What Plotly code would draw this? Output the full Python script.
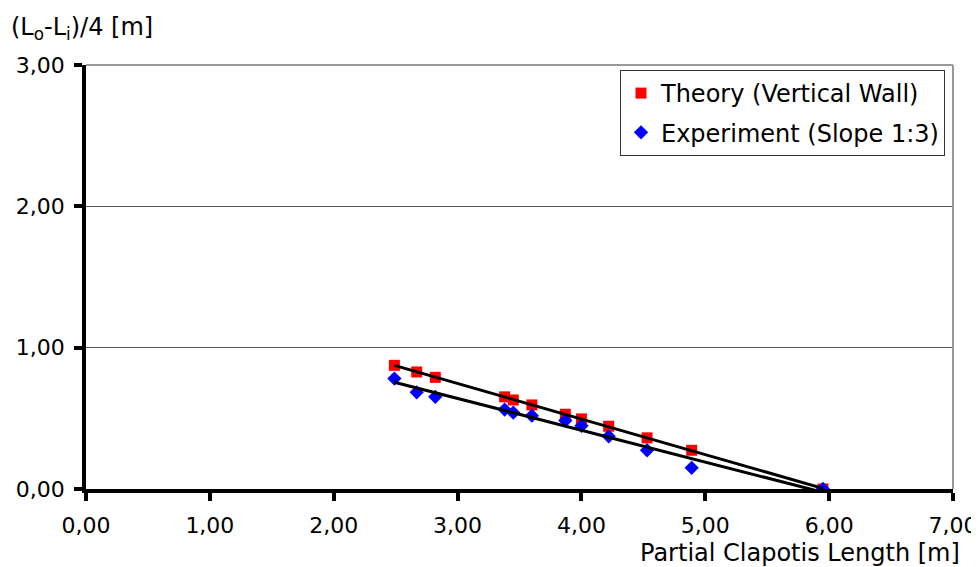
import numpy as np
import plotly.graph_objects as go

# Data
theory_x = [2.49, 2.67, 2.82, 3.38, 3.45, 3.60, 3.87, 4.00, 4.22, 4.53, 4.89, 5.95]
theory_y = [0.875, 0.828, 0.790, 0.652, 0.630, 0.595, 0.529, 0.496, 0.444, 0.362, 0.274, 0.0]
exp_x = [2.49, 2.67, 2.82, 3.38, 3.45, 3.60, 3.87, 4.00, 4.22, 4.53, 4.89, 5.95]
exp_y = [0.781, 0.684, 0.652, 0.562, 0.540, 0.519, 0.484, 0.447, 0.373, 0.274, 0.150, 0.0]

x_ticks = [0, 1, 2, 3, 4, 5, 6, 7]
y_ticks = [0, 1, 2, 3]

FONT = "DejaVu Sans"
FS = 22
FS2 = 24

# page body has an 8px default margin; compensate
PW, PH = 867, 424

fig = go.Figure()
fig.add_trace(go.Scatter(
    x=theory_x, y=theory_y, mode="markers", name="Theory (Vertical Wall)",
    marker=dict(symbol="square", size=11, color="#FF0000"), legendgroup="a"))
fig.add_trace(go.Scatter(
    x=exp_x, y=exp_y, mode="markers", name="Experiment (Slope 1:3)",
    marker=dict(symbol="diamond", size=11, color="#0000FF"), legendgroup="b"))

# linear trend lines
for xs, ys in [(theory_x, theory_y), (exp_x, exp_y)]:
    k, b = np.polyfit(xs, ys, 1)
    lx = [min(xs), max(xs)]
    fig.add_trace(go.Scatter(x=lx, y=[k * v + b for v in lx], mode="lines",
                             line=dict(color="black", width=3), showlegend=False,
                             hoverinfo="skip"))

fig.update_layout(
    width=971, height=559,
    margin=dict(l=78, r=26, t=57, b=78, autoexpand=False),
    paper_bgcolor="white", plot_bgcolor="white",
    separators=",.",
    font=dict(family=FONT, size=FS, color="black"),
    showlegend=True,
    legend=dict(x=1 - 8 / PW, y=1 - 5 / PH, xanchor="right", yanchor="top",
                bgcolor="white", bordercolor="#333333", borderwidth=1,
                font=dict(family=FONT, size=FS2, color="black"),
                tracegroupgap=5),
    xaxis=dict(range=[0, 7], tickvals=x_ticks, tickformat=".2f", automargin=False,
               showgrid=False, zeroline=False,
               showline=True, linecolor="black", linewidth=3.5,
               ticks="outside", ticklen=8, tickwidth=3.5, tickcolor="black",
               ticklabelstandoff=6,
               tickfont=dict(family=FONT, size=FS, color="black")),
    yaxis=dict(range=[0, 3], tickvals=y_ticks, tickformat=".2f", automargin=False,
               showgrid=True, gridcolor="#555555", gridwidth=1, zeroline=False,
               showline=True, linecolor="black", linewidth=3.5,
               ticks="outside", ticklen=8, tickwidth=3.5, tickcolor="black",
               ticklabelstandoff=5,
               tickfont=dict(family=FONT, size=FS, color="black")),
    shapes=[
        dict(type="line", xref="paper", yref="paper", x0=0, x1=1, y0=1, y1=1,
             line=dict(color="#999999", width=2)),
        dict(type="line", xref="paper", yref="paper", x0=1, x1=1, y0=0, y1=1,
             line=dict(color="#999999", width=2)),
    ],
    annotations=[
        dict(text="(L<sub>o</sub>-L<sub>i</sub>)/4 [m]", xref="paper", yref="paper",
             x=-77 / PW, y=1 + 37 / PH, xanchor="left", yanchor="middle",
             showarrow=False, font=dict(family=FONT, size=FS2, color="black")),
        dict(text="Partial Clapotis Length [m]", xref="paper", yref="paper",
             x=1 + 9 / PW, y=-64 / PH, xanchor="right", yanchor="middle",
             showarrow=False, font=dict(family=FONT, size=FS2, color="black")),
    ],
)

fig.write_html("out.html")
